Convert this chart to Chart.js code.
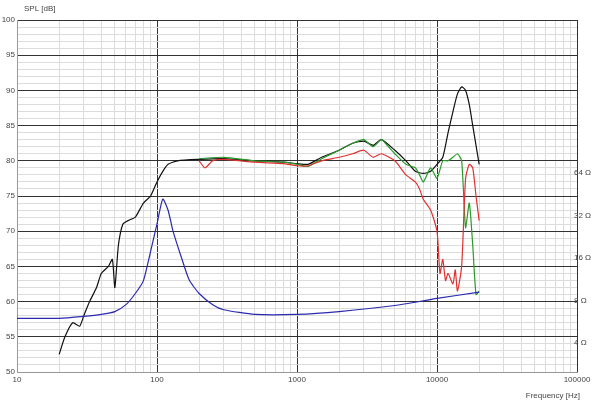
<!DOCTYPE html>
<html lang="en">
<head>
  <meta charset="UTF-8">
  <title>SPL / Impedance</title>
  <script src="https://cdn.jsdelivr.net/npm/chart.js"></script>
  <style>
    html, body { margin: 0; padding: 0; background: #fff; }
    #wrap { width: 600px; height: 403px; }
  </style>
</head>
<body>
  <div id="wrap"><canvas id="chartCanvas"></canvas></div>

  <script>
    // frequency response curves [Hz, dB]
    const blackFreq = [20, 22, 25, 28, 30, 33, 37, 40, 45, 48, 50, 53, 57, 62, 70, 80, 90, 100, 110, 120, 140, 200, 300, 500, 800, 1000, 1200, 1500, 2000, 2500, 3000, 3500, 4000, 5000, 6000, 7000, 8000, 9000, 10000, 11000, 12000, 13000, 14000, 15000, 16000, 17000, 18000, 20000];
    const blackSpl = [52.5, 55, 57, 56.5, 58, 60, 62, 64, 65, 66, 62, 68, 71, 71.5, 72, 74, 75, 77, 78.5, 79.5, 80, 80.2, 80.3, 80, 79.8, 79.6, 79.5, 80.5, 81.5, 82.5, 82.8, 82.2, 83, 81.5, 80, 78.5, 78.2, 78.5, 79.5, 80.5, 84, 87, 89.5, 90.5, 90, 88, 85, 79.5];

    const greenFreq = [200, 300, 500, 800, 1000, 1200, 1500, 2000, 2500, 3000, 3500, 4000, 4500, 5000, 6000, 7000, 7500, 8000, 9000, 10000, 11000, 12000, 13000, 14000, 15000, 16000, 17000, 18000, 19000, 20000];
    const greenSpl = [80.3, 80.5, 80, 79.8, 79.5, 79.2, 80.3, 81.5, 82.5, 83, 82, 83, 82, 81, 79.5, 79, 78, 77, 79, 77.5, 80, 80, 80.5, 81, 80, 70.5, 74, 68, 61, 61.5];

    const redFreq = [200, 220, 250, 300, 500, 800, 1000, 1200, 1500, 2000, 2500, 3000, 3500, 4000, 5000, 6000, 7000, 7500, 8000, 9000, 10000, 10500, 11000, 11500, 12000, 13000, 13500, 14000, 15000, 16000, 17000, 18000, 19000, 20000];
    const redSpl = [80, 79, 80, 80.2, 79.8, 79.6, 79.3, 79.3, 80, 80.5, 81, 81.5, 80.5, 81, 80, 78, 77, 76, 74.5, 73, 70, 64, 66, 63, 64, 62.5, 64.5, 61.5, 65, 77.5, 79.5, 79, 75, 71.5];

    // impedance [Hz, ohm]
    const impFreq = [10, 20, 30, 40, 50, 60, 70, 80, 90, 100, 110, 120, 130, 150, 170, 200, 250, 300, 500, 1000, 2000, 5000, 10000, 20000];
    const impOhm = [6.0, 6.0, 6.2, 6.4, 6.7, 7.5, 9.0, 11.1, 17.9, 28, 42, 35, 25, 16, 11.2, 9, 7.5, 6.9, 6.4, 6.4, 6.7, 7.4, 8.3, 9.2];

    const ohmTicks = [4, 8, 16, 32, 64];

    const pts = (xs, ys) => xs.map((x, i) => ({ x: x, y: ys[i] }));
    const line = (label, data, color, axis) => ({
      label, data, borderColor: color, borderWidth: 1.2, pointRadius: 0,
      tension: 0.2, yAxisID: axis
    });

    const freqTicks = [];
    for (let d = 10; d <= 100000; d *= 10) {
      for (let m = 1; m < 10; m++) { if (d * m <= 100000) freqTicks.push(d * m); }
    }
    const isDecade = v => Math.abs(Math.log10(v) - Math.round(Math.log10(v))) < 1e-6;

    // axis titles and the ohm labels on the right
    const axisTitles = {
      id: 'axisTitles',
      afterDraw(chart) {
        const c = chart.ctx;
        const yR = chart.scales.yR;
        c.save();
        c.fillStyle = '#444';
        c.font = '8px "Liberation Sans", Arial, sans-serif';
        c.textBaseline = 'middle';
        c.textAlign = 'left';
        c.fillText('SPL [dB]', 24, 9);
        ohmTicks.forEach(v => c.fillText(v + ' \u03A9', yR.left - 3, yR.getPixelForValue(v)));
        c.textAlign = 'right';
        c.fillText('Frequency [Hz]', 580, 396);
        c.restore();
      }
    };

    new Chart(document.getElementById('chartCanvas'), {
      type: 'line',
      data: {
        datasets: [
          line('impedance', pts(impFreq, impOhm), '#2a2ab0', 'yR'),
          line('red', pts(redFreq, redSpl), '#e03030', 'y'),
          line('green', pts(greenFreq, greenSpl), '#2a9a2a', 'y'),
          line('black', pts(blackFreq, blackSpl), '#111', 'y')
        ]
      },
      options: {
        responsive: true, maintainAspectRatio: false, animation: false,
        layout: { padding: { top: 20, left: 0, right: 0, bottom: 0 } },
        plugins: { legend: { display: false }, tooltip: { enabled: false } },
        scales: {
          x: {
            type: 'logarithmic', min: 10, max: 100000,
            afterBuildTicks: s => { s.ticks = freqTicks.map(v => ({ value: v })); },
            afterFit: s => { s.height = 31; },
            ticks: {
              autoSkip: false, maxRotation: 0, color: '#444',
              font: { size: 8, family: '"Liberation Sans", Arial' },
              callback: v => isDecade(v) ? String(v) : ''
            },
            grid: {
              color: ctx => isDecade(ctx.tick.value) ? '#333' : '#dcdcdc',
              drawTicks: false
            },
            border: { color: '#999' }
          },
          y: {
            position: 'left', min: 50, max: 100, z: -1,
            afterFit: s => { s.width = 17; },
            afterBuildTicks: s => {
              const t = []; for (let v = 50; v <= 100; v++) t.push({ value: v }); s.ticks = t;
            },
            ticks: {
              autoSkip: false, padding: 2, color: '#444',
              font: { size: 8, family: '"Liberation Sans", Arial' },
              callback: v => v % 5 === 0 ? String(v) : ''
            },
            grid: {
              color: ctx => ctx.tick.value % 5 === 0 ? '#333' : '#dcdcdc',
              drawTicks: false
            },
            border: { color: '#999' }
          },
          yR: {
            type: 'logarithmic', position: 'right', min: 2.5, max: 780,
            afterFit: s => { s.width = 23; },
            afterBuildTicks: s => { s.ticks = ohmTicks.map(v => ({ value: v })); },
            ticks: { display: false },
            grid: { display: false, drawTicks: false },
            border: { display: false }
          }
        }
      },
      plugins: [axisTitles]
    });
  </script>
</body>
</html>
